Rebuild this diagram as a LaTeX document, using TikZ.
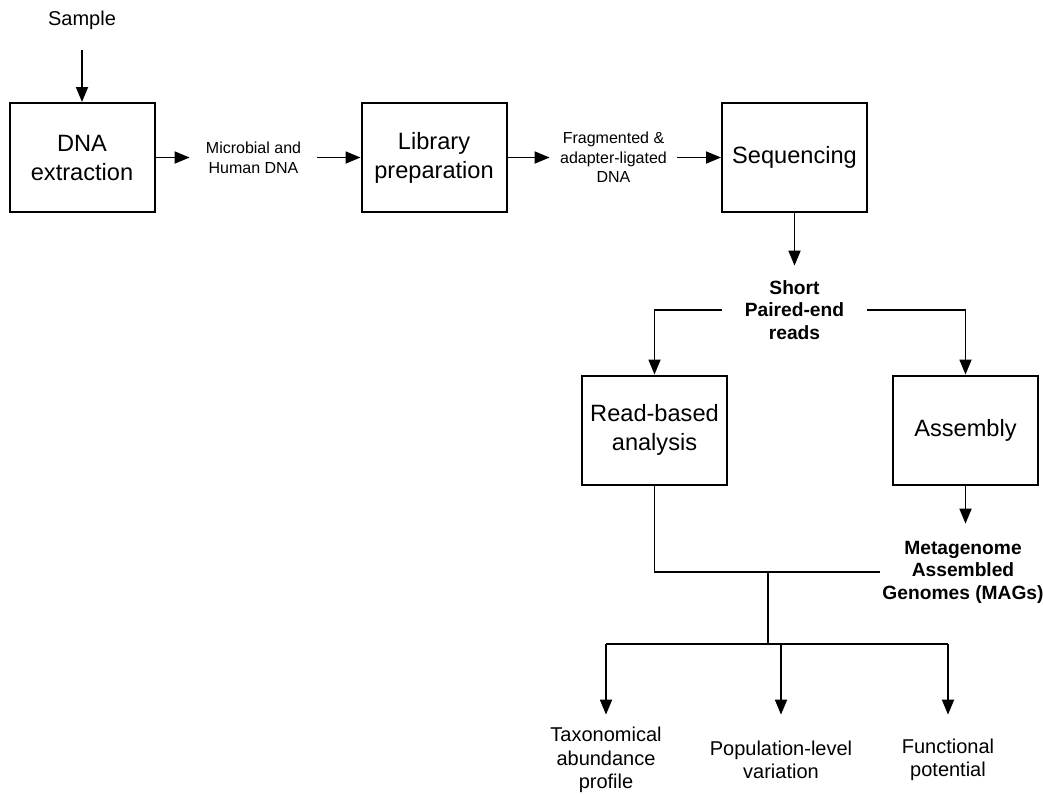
\documentclass[tikz,border=0pt]{standalone}
\usepackage{fontspec}
\setmainfont{Liberation Sans}
\usepackage{tikz}
\usetikzlibrary{arrows.meta}

\begin{document}
\begin{tikzpicture}[x=0.5pt, y=-0.5pt,
    stepbox/.style={draw, line width=1pt, minimum width=72.5pt, minimum height=54.5pt,
        align=center, font=\fontsize{11.8}{14.5}\selectfont},
    flowlabel/.style={inner sep=0pt, minimum width=63.5pt, align=center,
        font=\fontsize{8}{9.8}\selectfont},
    datalabel/.style={inner sep=0pt, align=center, font=\bfseries\fontsize{9.6}{11.3}\selectfont},
    outlabel/.style={inner sep=0pt, minimum height=45pt, align=center,
        font=\fontsize{10}{11.7}\selectfont},
    arr/.style={-{Triangle[length=7.5pt,width=6pt]}, line width=0.9pt},
    link/.style={line width=0.9pt}]
            \useasboundingbox (0,0) rectangle (1043,794);

            % Wet-lab steps
            \node[inner sep=0pt, font=\fontsize{10}{12}\selectfont] (sample) at (82,20) {Sample};
            \node[stepbox] (dna) at (82,157.5) {DNA\\extraction};
            \node[flowlabel] (mhdna) at (253.5,157.5) {Microbial and\\Human DNA};
            \node[stepbox] (lib) at (434,157.5) {Library\\preparation};
            \node[flowlabel] (frag) at (613.5,157.5) {Fragmented \&\\adapter-ligated\\DNA};
            \node[stepbox] (seq) at (794.5,157.5) {Sequencing};

            % Analysis
            \node[datalabel, minimum width=72.5pt, minimum height=44pt] (reads) at (794.5,310) {Short\\Paired-end\\reads};
            \node[stepbox] (read) at (654.5,430) {Read-based\\analysis};
            \node[stepbox] (asm) at (965.5,430) {Assembly};
            \node[datalabel, inner xsep=1pt, minimum height=48pt] (mags) at (963,572) {Metagenome\\Assembled\\Genomes (MAGs)};

            % Outcomes
            \node[outlabel] (tax) at (606,760) {Taxonomical\\abundance\\profile};
            \node[outlabel] (pop) at (781,760) {Population-level\\variation};
            \node[outlabel] (func) at (948,760) {Functional\\potential};

            \coordinate (merge) at (768,572);
            \coordinate (split) at (768,644);

            % Arrows connecting
            \draw[arr, shorten <=10pt] (sample) -- (dna);
            \draw[arr] (dna) -- (mhdna);
            \draw[arr] (mhdna) -- (lib);
            \draw[arr] (lib) -- (frag);
            \draw[arr] (frag) -- (seq);
            \draw[arr] (seq) -- (reads);
            \draw[arr] (reads.west) -| (read.north);
            \draw[arr] (reads.east) -| (asm.north);
            \draw[arr] (asm) -- (asm |- mags.north);
            \draw[link] (read) |- (mags.west);
            \draw[link] (merge) -- (split);
            \draw[link] (tax.north |- split) -- (func.north |- split);
            \foreach \out in {tax,pop,func}
                \draw[arr] (\out.north |- split) -- (\out.north);
\end{tikzpicture}
\end{document}
